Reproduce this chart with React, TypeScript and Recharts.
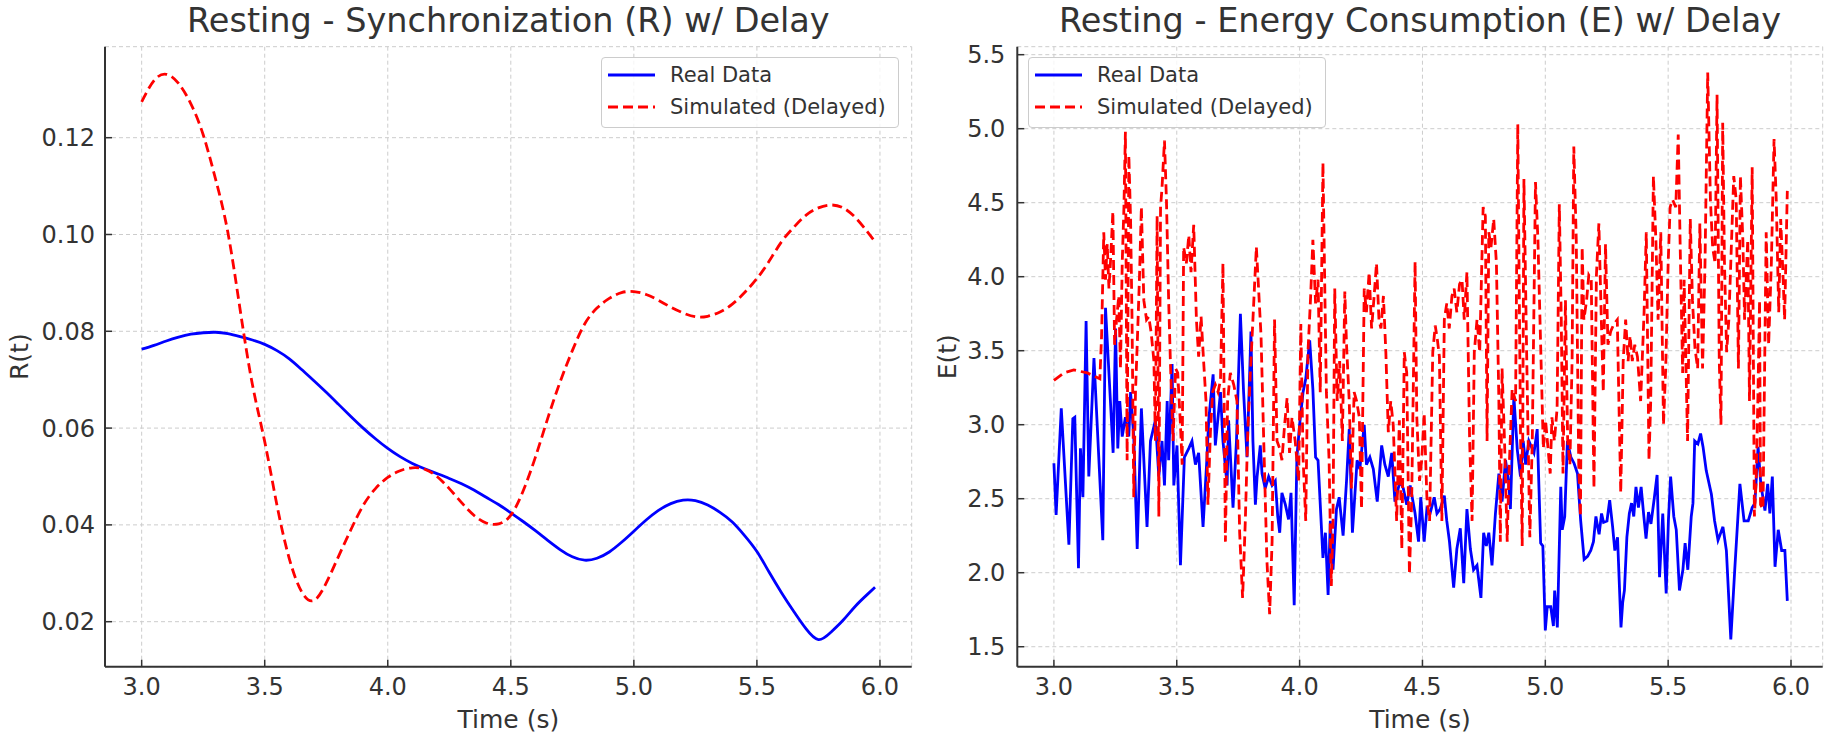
import { CartesianGrid, Legend, Line, LineChart, XAxis, YAxis } from "recharts"

const FONT = "'DejaVu Sans', Verdana, sans-serif"
const INK = "#333333"
const BLUE = "#0000ff"
const RED = "#ff0000"

// left panel: R(t), sampled every 0.05 s
const syncTime = [
  3.0, 3.05, 3.1, 3.15, 3.2, 3.25, 3.3, 3.35, 3.4, 3.45, 3.5, 3.55, 3.6, 3.65, 3.7, 3.75, 3.8, 3.85, 3.9, 3.95,
  4.0, 4.05, 4.1, 4.15, 4.2, 4.25, 4.3, 4.35, 4.4, 4.45, 4.5, 4.55, 4.6, 4.65, 4.7, 4.75, 4.8, 4.85, 4.9, 4.95,
  5.0, 5.05, 5.1, 5.15, 5.2, 5.25, 5.3, 5.35, 5.4, 5.45, 5.5, 5.55, 5.6, 5.65, 5.7, 5.75, 5.8, 5.85, 5.9, 5.95, 5.98,
]
const syncReal = [
  0.0763, 0.0771, 0.078, 0.0788, 0.0794, 0.0797, 0.0798, 0.0795, 0.0789, 0.0782, 0.0773, 0.076, 0.0743, 0.0721,
  0.0698, 0.0674, 0.0649, 0.0624, 0.06, 0.0578, 0.0558, 0.0541, 0.0527, 0.0516, 0.0506, 0.0496, 0.0485, 0.0472,
  0.0457, 0.0442, 0.0425, 0.0407, 0.0388, 0.0368, 0.0349, 0.0334, 0.0327, 0.0331, 0.0344, 0.0364, 0.0387, 0.041,
  0.043, 0.0444, 0.0451, 0.045, 0.0441, 0.0426, 0.0406, 0.0378, 0.0345, 0.0302, 0.026, 0.0221, 0.0185, 0.0163,
  0.0178, 0.0203, 0.0232, 0.0257, 0.0271,
]
const syncSim = [
  0.1274, 0.1318, 0.1331, 0.1312, 0.127, 0.1206, 0.1115, 0.1005, 0.0845, 0.069, 0.0572, 0.044, 0.033, 0.0262,
  0.0244, 0.028, 0.0335, 0.039, 0.044, 0.0475, 0.0498, 0.0512, 0.0518, 0.0515, 0.05, 0.0475, 0.0446, 0.042,
  0.0404, 0.0402, 0.042, 0.047, 0.054, 0.062, 0.0695, 0.076, 0.0815, 0.0848, 0.0868, 0.088, 0.0882, 0.0876,
  0.0864, 0.085, 0.0838, 0.083, 0.0831, 0.084, 0.0856, 0.088, 0.0909, 0.0945, 0.0985, 0.1015, 0.104, 0.1055,
  0.1061, 0.1055, 0.1035, 0.1005, 0.0985,
]

// right panel: E(t) as [time, value] readings
const energyReal: [number, number][] = [
  [3.0, 2.74], [3.009, 2.39], [3.03, 3.11], [3.061, 2.19], [3.077, 3.04], [3.085, 3.05], [3.1, 2.03], [3.108, 2.84],
  [3.118, 2.51], [3.131, 3.7], [3.142, 2.65], [3.163, 3.45], [3.199, 2.22], [3.21, 3.79], [3.23, 3.16], [3.241, 2.81],
  [3.251, 3.65], [3.26, 2.84], [3.268, 3.16], [3.278, 2.92], [3.291, 3.05], [3.305, 2.92], [3.312, 3.22], [3.325, 2.92],
  [3.339, 2.16], [3.356, 3.11], [3.379, 2.31], [3.393, 2.89], [3.413, 3.03], [3.427, 2.65], [3.44, 2.89], [3.45, 2.59],
  [3.461, 3.16], [3.467, 2.76], [3.481, 3.41], [3.488, 2.59], [3.501, 2.86], [3.515, 2.05], [3.531, 2.78], [3.549, 2.84],
  [3.562, 2.89], [3.576, 2.73], [3.589, 2.81], [3.607, 2.31], [3.623, 2.78], [3.63, 3.03], [3.648, 3.34], [3.657, 2.86],
  [3.678, 3.22], [3.688, 2.89], [3.705, 2.59], [3.711, 3.03], [3.729, 2.44], [3.743, 2.89], [3.759, 3.75], [3.772, 3.22],
  [3.786, 2.78], [3.802, 3.63], [3.81, 2.89], [3.82, 2.46], [3.827, 2.65], [3.84, 2.86], [3.847, 2.67], [3.86, 2.57],
  [3.874, 2.65], [3.888, 2.59], [3.901, 2.62], [3.911, 2.38], [3.919, 2.27], [3.928, 2.54], [3.942, 2.46], [3.955, 2.36],
  [3.965, 2.54], [3.978, 1.78], [3.989, 2.78], [4.0, 3.0], [4.014, 3.22], [4.025, 3.31], [4.041, 3.57], [4.054, 3.24],
  [4.065, 2.78], [4.075, 2.76], [4.095, 2.1], [4.105, 2.27], [4.116, 1.85], [4.125, 2.35], [4.136, 2.02], [4.15, 2.43],
  [4.161, 2.51], [4.177, 2.25], [4.191, 2.62], [4.202, 2.97], [4.215, 2.27], [4.234, 2.76], [4.245, 2.7], [4.263, 3.0],
  [4.272, 2.73], [4.286, 2.78], [4.3, 2.7], [4.316, 2.48], [4.334, 2.86], [4.347, 2.73], [4.361, 2.65], [4.375, 2.81],
  [4.388, 2.48], [4.409, 2.62], [4.422, 2.57], [4.436, 2.46], [4.45, 2.59], [4.47, 2.4], [4.484, 2.21], [4.493, 2.51],
  [4.507, 2.21], [4.518, 2.43], [4.531, 2.4], [4.548, 2.51], [4.559, 2.4], [4.572, 2.43], [4.589, 2.52], [4.599, 2.35],
  [4.61, 2.21], [4.627, 1.9], [4.64, 2.16], [4.654, 2.3], [4.668, 1.93], [4.681, 2.43], [4.695, 2.16], [4.708, 2.02],
  [4.722, 2.05], [4.738, 1.83], [4.749, 2.27], [4.76, 2.18], [4.77, 2.27], [4.783, 2.05], [4.797, 2.4], [4.811, 2.67],
  [4.824, 2.48], [4.838, 2.76], [4.851, 2.62], [4.858, 2.43], [4.872, 3.19], [4.886, 2.83], [4.899, 2.65], [4.91, 2.89],
  [4.92, 2.73], [4.933, 2.89], [4.954, 2.81], [4.967, 2.97], [4.981, 2.2], [4.99, 2.18], [5.0, 1.61], [5.008, 1.77],
  [5.022, 1.77], [5.033, 1.64], [5.038, 1.88], [5.049, 1.63], [5.063, 2.58], [5.069, 2.29], [5.079, 2.38], [5.09, 2.89],
  [5.104, 2.78], [5.117, 2.74], [5.131, 2.67], [5.144, 2.35], [5.158, 2.09], [5.172, 2.11], [5.185, 2.15], [5.196, 2.21],
  [5.206, 2.38], [5.213, 2.31], [5.219, 2.26], [5.229, 2.4], [5.237, 2.34], [5.251, 2.35], [5.262, 2.49], [5.274, 2.31],
  [5.283, 2.15], [5.294, 2.24], [5.308, 1.63], [5.315, 1.8], [5.322, 1.88], [5.332, 2.24], [5.342, 2.4], [5.351, 2.47],
  [5.36, 2.38], [5.369, 2.58], [5.379, 2.44], [5.39, 2.58], [5.401, 2.38], [5.41, 2.23], [5.42, 2.41], [5.43, 2.33],
  [5.444, 2.51], [5.455, 2.66], [5.465, 1.97], [5.478, 2.4], [5.492, 1.86], [5.501, 2.35], [5.51, 2.65], [5.523, 2.38],
  [5.533, 2.29], [5.546, 1.88], [5.56, 2.02], [5.569, 2.2], [5.58, 2.02], [5.594, 2.38], [5.601, 2.47], [5.608, 2.89],
  [5.621, 2.87], [5.632, 2.94], [5.642, 2.85], [5.655, 2.69], [5.676, 2.53], [5.689, 2.35], [5.703, 2.22], [5.723, 2.31],
  [5.737, 2.15], [5.755, 1.55], [5.771, 2.02], [5.792, 2.6], [5.809, 2.35], [5.826, 2.35], [5.842, 2.44], [5.853, 2.47],
  [5.866, 2.85], [5.877, 2.6], [5.894, 2.42], [5.905, 2.6], [5.914, 2.4], [5.924, 2.65], [5.935, 2.04], [5.948, 2.29],
  [5.962, 2.15], [5.975, 2.15], [5.985, 1.81],
]

const energySim: [number, number][] = [
  [3.0, 3.3], [3.041, 3.35], [3.081, 3.37], [3.136, 3.35], [3.187, 3.31], [3.194, 3.6], [3.203, 4.3], [3.21, 3.98],
  [3.217, 4.22], [3.224, 3.92], [3.23, 4.09], [3.24, 4.44], [3.247, 3.54], [3.255, 3.71], [3.264, 3.87], [3.271, 3.38],
  [3.278, 4.09], [3.285, 4.47], [3.291, 4.98], [3.298, 2.76], [3.305, 4.82], [3.312, 4.39], [3.318, 3.71], [3.325, 2.51],
  [3.332, 3.22], [3.339, 3.54], [3.348, 3.98], [3.356, 4.47], [3.366, 3.84], [3.377, 3.71], [3.386, 3.73], [3.396, 3.62],
  [3.407, 3.43], [3.413, 2.89], [3.42, 4.41], [3.427, 2.38], [3.434, 4.47], [3.44, 4.6], [3.45, 4.92], [3.458, 4.52],
  [3.467, 3.84], [3.474, 3.43], [3.485, 2.89], [3.495, 3.38], [3.504, 3.35], [3.515, 3.0], [3.522, 2.73], [3.528, 4.2],
  [3.539, 4.09], [3.549, 4.28], [3.558, 4.03], [3.569, 4.35], [3.58, 3.71], [3.589, 3.46], [3.599, 3.73], [3.61, 3.41],
  [3.619, 3.16], [3.627, 2.46], [3.637, 2.95], [3.646, 3.22], [3.657, 3.27], [3.668, 3.22], [3.678, 3.3], [3.688, 4.09],
  [3.698, 2.21], [3.707, 3.16], [3.718, 3.35], [3.732, 3.27], [3.745, 3.16], [3.756, 2.27], [3.768, 1.83], [3.779, 2.35],
  [3.789, 2.95], [3.799, 3.33], [3.81, 3.71], [3.824, 4.2], [3.833, 3.92], [3.843, 3.6], [3.854, 2.89], [3.867, 2.08],
  [3.878, 1.72], [3.888, 2.21], [3.898, 3.71], [3.908, 2.89], [3.919, 2.84], [3.928, 2.76], [3.939, 3.0], [3.949, 3.18],
  [3.959, 2.81], [3.969, 3.05], [3.982, 2.89], [3.996, 2.62], [4.005, 3.68], [4.014, 2.78], [4.025, 2.35], [4.034, 3.49],
  [4.045, 3.87], [4.054, 4.25], [4.065, 3.82], [4.075, 3.98], [4.084, 3.22], [4.095, 4.77], [4.102, 3.98], [4.109, 3.22],
  [4.12, 2.76], [4.129, 1.91], [4.136, 2.35], [4.143, 3.92], [4.153, 3.16], [4.163, 3.43], [4.174, 2.89], [4.184, 3.9],
  [4.191, 3.54], [4.202, 3.16], [4.211, 2.57], [4.222, 3.22], [4.232, 3.16], [4.243, 3.05], [4.252, 2.43], [4.263, 3.92],
  [4.272, 3.76], [4.283, 4.03], [4.293, 3.65], [4.302, 3.84], [4.313, 4.09], [4.323, 3.71], [4.331, 3.65], [4.341, 3.87],
  [4.351, 3.49], [4.361, 2.95], [4.371, 3.16], [4.381, 3.0], [4.395, 2.35], [4.406, 3.03], [4.416, 2.16], [4.426, 3.49],
  [4.436, 3.35], [4.447, 1.99], [4.456, 2.48], [4.47, 4.1], [4.477, 3.05], [4.488, 2.62], [4.497, 2.76], [4.507, 3.08],
  [4.518, 2.51], [4.529, 2.35], [4.542, 3.49], [4.552, 3.67], [4.561, 3.57], [4.569, 3.46], [4.579, 2.35], [4.589, 3.71],
  [4.599, 3.82], [4.609, 3.65], [4.62, 3.87], [4.629, 3.92], [4.64, 3.76], [4.651, 3.95], [4.661, 3.98], [4.67, 3.71],
  [4.681, 4.03], [4.692, 2.89], [4.702, 2.35], [4.711, 3.49], [4.722, 3.71], [4.733, 3.49], [4.747, 4.47], [4.756, 4.41],
  [4.763, 2.89], [4.77, 4.3], [4.779, 4.2], [4.79, 4.39], [4.801, 4.09], [4.811, 3.16], [4.817, 2.21], [4.824, 3.38],
  [4.834, 2.89], [4.845, 2.21], [4.851, 2.62], [4.865, 3.24], [4.879, 3.16], [4.888, 5.03], [4.899, 2.95], [4.906, 2.18],
  [4.913, 4.66], [4.924, 3.49], [4.937, 2.24], [4.947, 2.89], [4.96, 4.64], [4.97, 4.25], [4.981, 3.54], [4.992, 2.84],
  [5.001, 3.03], [5.02, 2.67], [5.027, 3.05], [5.037, 2.89], [5.048, 3.11], [5.057, 4.49], [5.065, 3.71], [5.072, 2.67],
  [5.082, 3.84], [5.091, 2.89], [5.1, 2.73], [5.109, 3.43], [5.116, 4.88], [5.126, 4.25], [5.136, 2.73], [5.143, 2.38],
  [5.15, 4.2], [5.157, 3.71], [5.168, 3.84], [5.177, 4.01], [5.187, 3.98], [5.198, 2.57], [5.208, 4.01], [5.218, 4.36],
  [5.228, 3.71], [5.236, 3.22], [5.245, 4.22], [5.255, 3.54], [5.266, 3.63], [5.279, 3.68], [5.293, 3.71], [5.307, 2.54],
  [5.317, 3.43], [5.327, 3.71], [5.337, 3.43], [5.345, 3.6], [5.354, 3.43], [5.364, 3.54], [5.375, 3.46], [5.388, 3.16],
  [5.402, 3.76], [5.411, 4.3], [5.422, 2.76], [5.429, 3.16], [5.44, 4.68], [5.45, 4.25], [5.459, 3.71], [5.47, 4.3],
  [5.481, 3.0], [5.49, 3.38], [5.5, 4.09], [5.508, 4.47], [5.518, 4.52], [5.531, 4.47], [5.541, 4.96], [5.549, 4.2],
  [5.559, 3.35], [5.565, 3.98], [5.579, 2.89], [5.59, 4.39], [5.599, 3.84], [5.609, 3.52], [5.62, 3.38], [5.629, 4.36],
  [5.64, 3.38], [5.65, 4.09], [5.661, 5.38], [5.672, 4.52], [5.681, 4.2], [5.691, 4.09], [5.699, 5.23], [5.708, 3.43],
  [5.715, 3.0], [5.722, 5.04], [5.729, 4.11], [5.738, 3.49], [5.747, 3.71], [5.767, 4.68], [5.777, 4.52], [5.786, 3.38],
  [5.794, 4.68], [5.804, 4.25], [5.811, 3.71], [5.824, 4.25], [5.831, 3.16], [5.842, 4.74], [5.851, 2.38], [5.858, 2.62],
  [5.865, 3.16], [5.872, 3.84], [5.876, 2.46], [5.886, 2.43], [5.899, 4.3], [5.909, 3.54], [5.92, 4.09], [5.931, 4.93],
  [5.94, 4.52], [5.95, 3.76], [5.958, 4.39], [5.967, 4.03], [5.974, 3.71], [5.985, 4.58],
]

const timeTicks = [3.0, 3.5, 4.0, 4.5, 5.0, 5.5, 6.0]
const syncTicks = [0.02, 0.04, 0.06, 0.08, 0.1, 0.12]
const energyTicks = [1.5, 2.0, 2.5, 3.0, 3.5, 4.0, 4.5, 5.0, 5.5]

const syncData = syncTime.map((t, i) => ({ t, real: syncReal[i], sim: syncSim[i] }))
const energyRealData = energyReal.map(([t, v]) => ({ t, v }))
const energySimData = energySim.map(([t, v]) => ({ t, v }))

const tickStyle = { fill: INK, fontSize: 24, fontFamily: FONT }
const axisLine = { stroke: INK, strokeWidth: 2 }
const tickLine = { stroke: INK, strokeWidth: 1.5 }

function BoxLegend() {
  return (
    <div
      style={{
        position: "relative",
        width: 298,
        height: 71,
        boxSizing: "border-box",
        border: "1.3px solid #cccccc",
        borderRadius: 4,
        background: "rgba(255,255,255,0.8)",
        fontFamily: FONT,
        fontSize: 21,
        color: INK,
      }}
    >
      <svg width={60} height={71} style={{ position: "absolute", left: 0, top: 0 }}>
        <line x1={6} x2={53} y1={17} y2={17} stroke={BLUE} strokeWidth={2.8} />
        <line x1={6} x2={53} y1={49} y2={49} stroke={RED} strokeWidth={2.8} strokeDasharray="10 5" />
      </svg>
      <div style={{ position: "absolute", left: 68, top: 17, transform: "translateY(-50%)", lineHeight: 1 }}>Real Data</div>
      <div style={{ position: "absolute", left: 68, top: 49, transform: "translateY(-50%)", lineHeight: 1 }}>
        Simulated (Delayed)
      </div>
    </div>
  )
}

function timeAxis() {
  return (
    <XAxis
      type="number"
      dataKey="t"
      domain={[2.851, 6.129]}
      allowDataOverflow
      ticks={timeTicks}
      interval={0}
      tickFormatter={(v) => v.toFixed(1)}
      height={73.3}
      tick={tickStyle}
      tickSize={-7}
      tickMargin={18}
      axisLine={axisLine}
      tickLine={tickLine}
      label={{ value: "Time (s)", position: "insideBottom", offset: 11.7, fill: INK, fontSize: 25, fontFamily: FONT }}
    />
  )
}

export default function App() {
  return (
    <div style={{ position: "absolute", left: 0, top: 0, width: 1831, height: 740, background: "#ffffff", fontFamily: FONT }}>
      <svg width={1831} height={40} style={{ position: "absolute", left: 0, top: 0 }}>
        <text x={508.4} y={32} textAnchor="middle" fontSize={33.5} fontFamily={FONT} fill={INK}>
          Resting - Synchronization (R) w/ Delay
        </text>
        <text x={1420} y={32} textAnchor="middle" fontSize={33.5} fontFamily={FONT} fill={INK}>
          Resting - Energy Consumption (E) w/ Delay
        </text>
      </svg>

      <div style={{ position: "absolute", left: 0, top: 0 }}>
        <LineChart width={915} height={740} data={syncData} margin={{ top: 46.7, right: 3.3, left: 0, bottom: 0 }}>
          <CartesianGrid stroke="#cccccc" strokeDasharray="4 3" strokeWidth={1} />
          {timeAxis()}
          <YAxis
            type="number"
            domain={[0.0107, 0.1388]}
            allowDataOverflow
            ticks={syncTicks}
            interval={0}
            tickFormatter={(v) => v.toFixed(2)}
            width={105}
            tick={tickStyle}
            tickSize={-7}
            tickMargin={17}
            axisLine={axisLine}
            tickLine={tickLine}
            label={{
              value: "R(t)",
              angle: -90,
              position: "insideLeft",
              offset: 19,
              fill: INK,
              fontSize: 25,
              fontFamily: FONT,
              style: { textAnchor: "middle" },
            }}
          />
          <Line type="natural" dataKey="real" stroke={BLUE} strokeWidth={2.8} dot={false} isAnimationActive={false} />
          <Line
            type="natural"
            dataKey="sim"
            stroke={RED}
            strokeWidth={2.8}
            strokeDasharray="10 5"
            dot={false}
            isAnimationActive={false}
          />
          <Legend
            content={() => <BoxLegend />}
            layout="vertical"
            verticalAlign="middle"
            align="center"
            wrapperStyle={{ left: 601, top: 57, width: 298, height: 71 }}
          />
        </LineChart>
      </div>

      <div style={{ position: "absolute", left: 915, top: 0 }}>
        <LineChart width={916} height={740} margin={{ top: 46.7, right: 8.3, left: 0, bottom: 0 }}>
          <CartesianGrid stroke="#cccccc" strokeDasharray="4 3" strokeWidth={1} />
          {timeAxis()}
          <YAxis
            type="number"
            domain={[1.365, 5.554]}
            allowDataOverflow
            ticks={energyTicks}
            interval={0}
            tickFormatter={(v) => v.toFixed(1)}
            width={102.3}
            tick={tickStyle}
            tickSize={-7}
            tickMargin={19}
            axisLine={axisLine}
            tickLine={tickLine}
            label={{
              value: "E(t)",
              angle: -90,
              position: "insideLeft",
              offset: 32,
              fill: INK,
              fontSize: 25,
              fontFamily: FONT,
              style: { textAnchor: "middle" },
            }}
          />
          <Line
            data={energyRealData}
            type="linear"
            dataKey="v"
            stroke={BLUE}
            strokeWidth={2.8}
            dot={false}
            isAnimationActive={false}
          />
          <Line
            data={energySimData}
            type="linear"
            dataKey="v"
            stroke={RED}
            strokeWidth={2.8}
            strokeDasharray="10 5"
            dot={false}
            isAnimationActive={false}
          />
          <Legend
            content={() => <BoxLegend />}
            layout="vertical"
            verticalAlign="middle"
            align="center"
            wrapperStyle={{ left: 113, top: 57, width: 298, height: 71 }}
          />
        </LineChart>
      </div>
    </div>
  )
}
